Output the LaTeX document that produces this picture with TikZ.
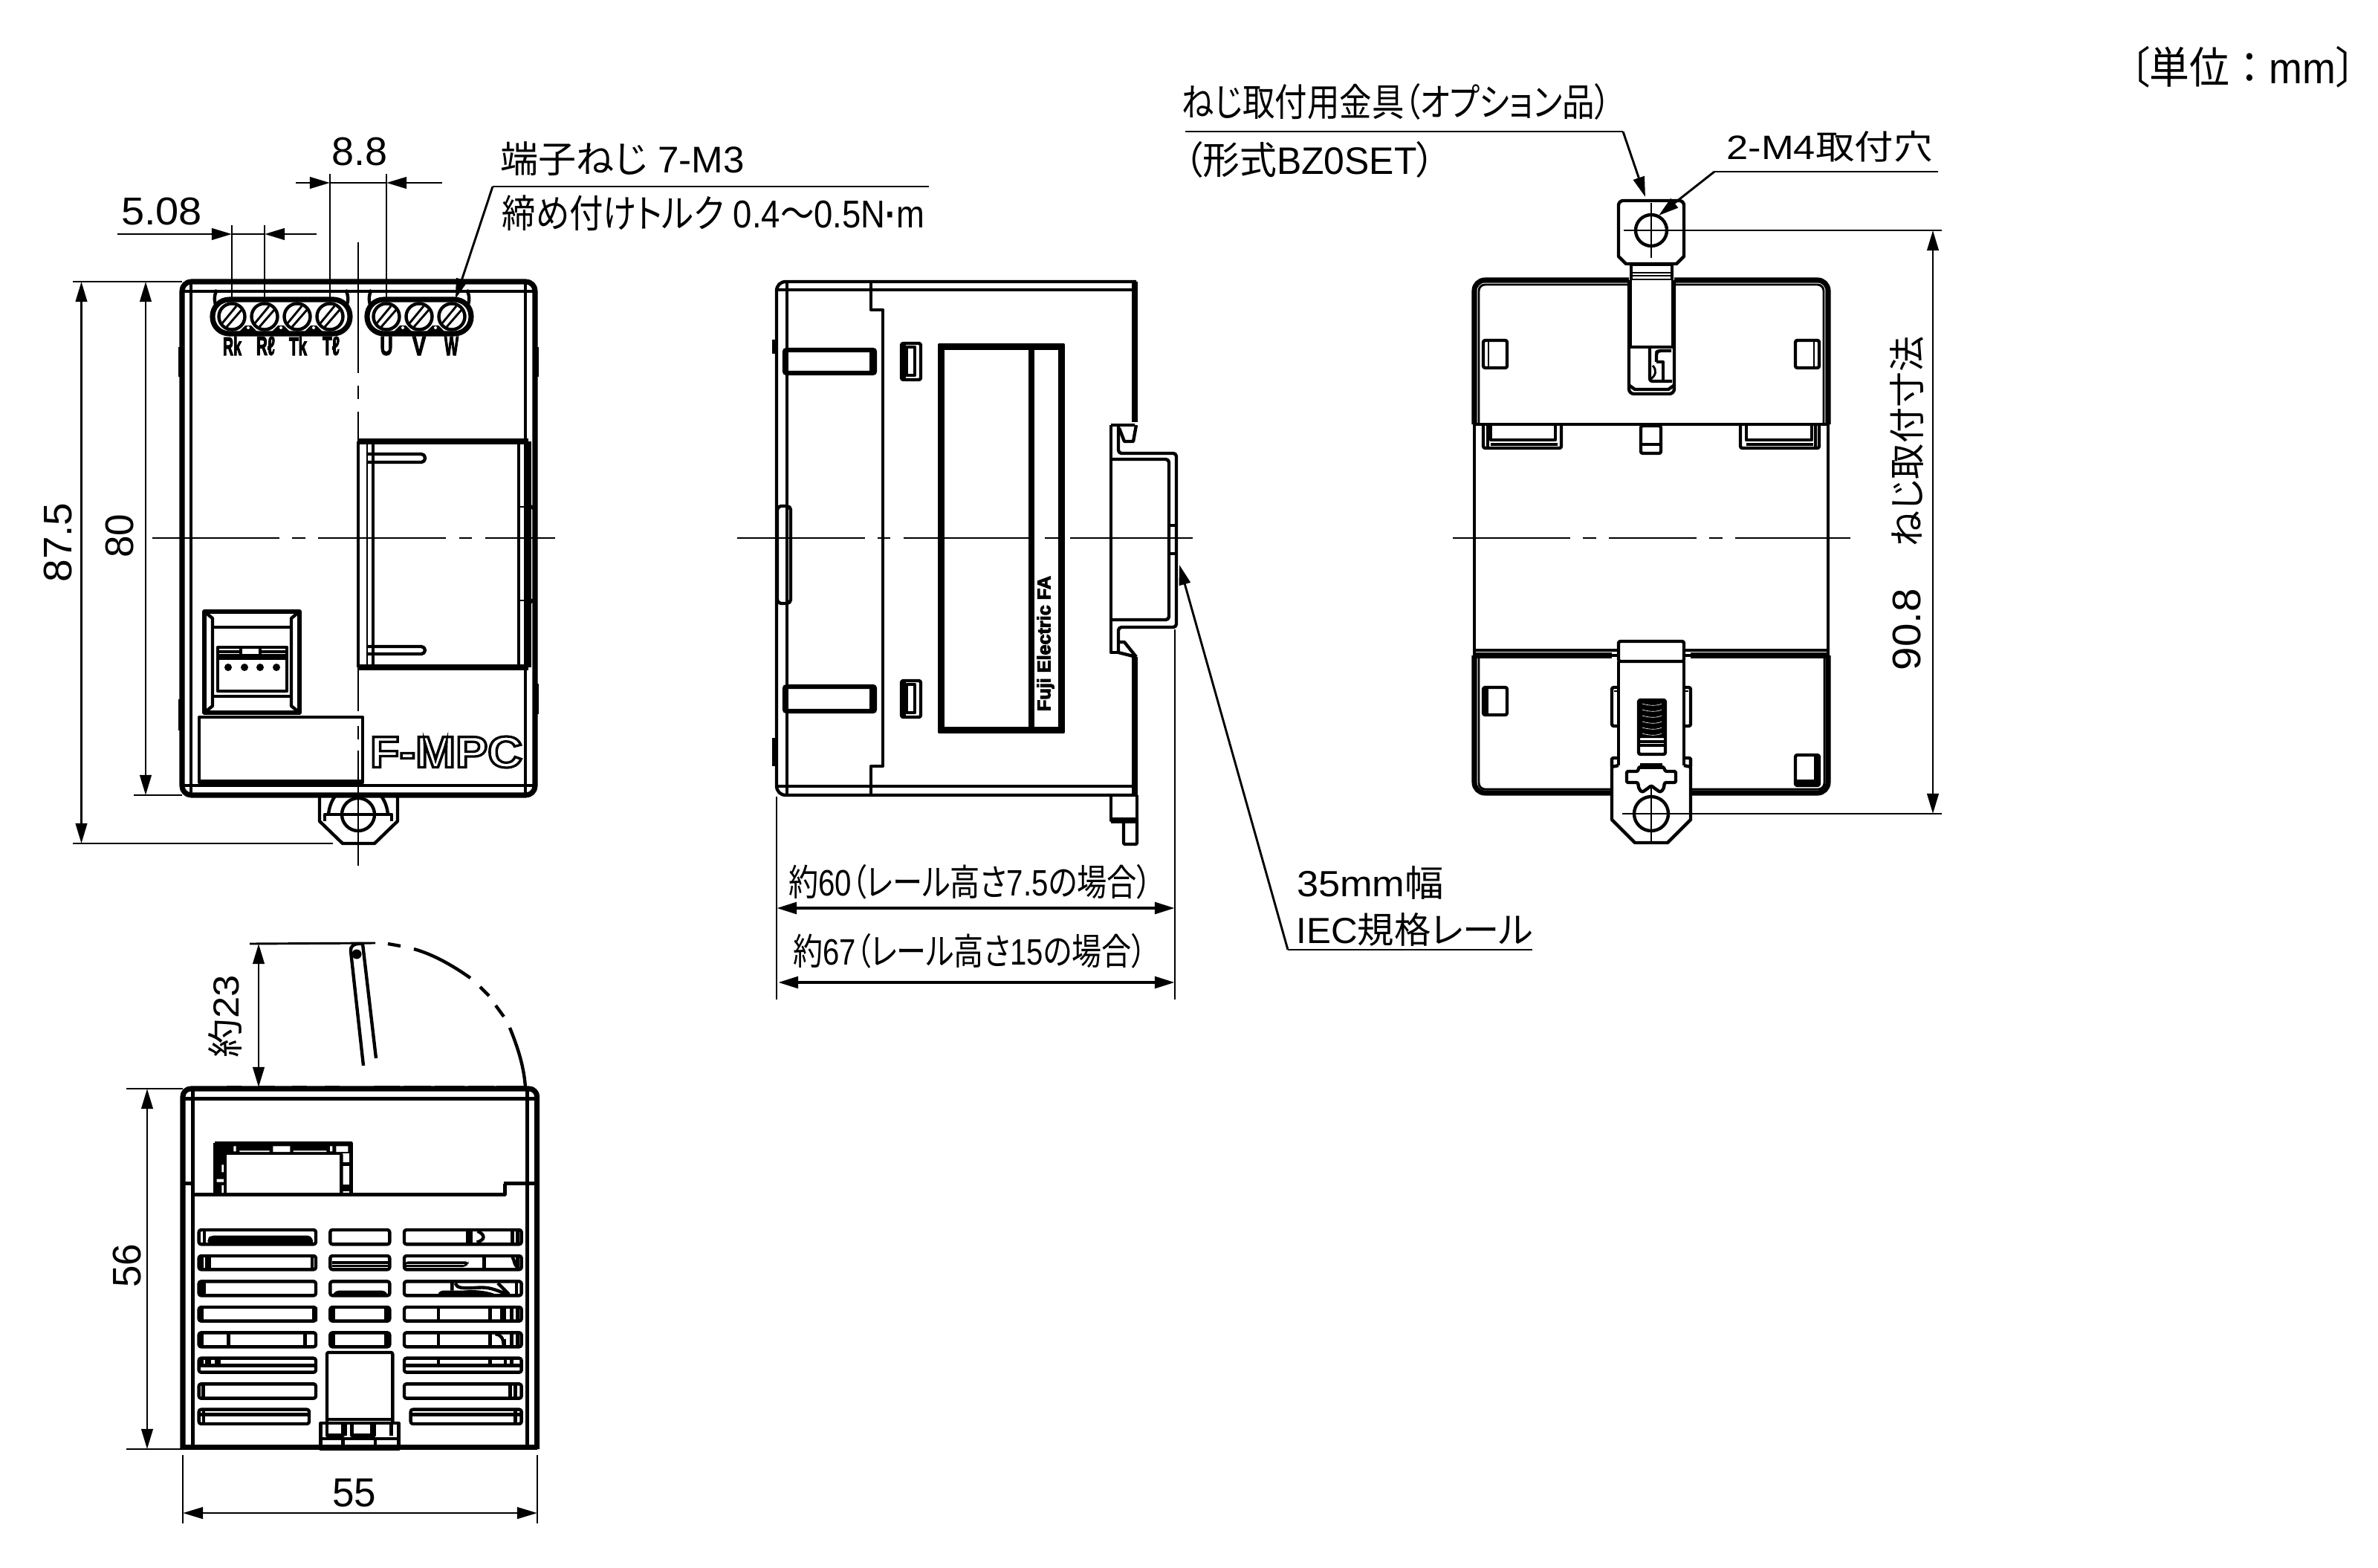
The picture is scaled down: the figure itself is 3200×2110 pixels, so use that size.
\documentclass[tikz,border=0pt]{standalone}
\usepackage{fontspec}
\usepackage{graphicx}
\usetikzlibrary{arrows.meta}
\setmainfont{Liberation Sans}
\newfontfamily\jpf[RawFeature=+palt]{Noto Sans CJK JP}
\newfontfamily\jpn{Noto Sans CJK JP}
\newfontfamily\hvf[UprightFont=* Bold,FakeBold=4]{Liberation Sans}
\newcommand\J[1]{{\jpf #1}}
\newcommand\HV[1]{{\hvf #1}}
\newcommand\FC{{\jpn ^^^^ff1a}}
\newcommand\LP{{\jpf ^^^^ff08}}
\newcommand\RP{{\jpf ^^^^ff09}}
\newlength\pxu \setlength\pxu{0.24pt}
\newcommand\lbx[6]{\node[inner sep=0pt] (#1) at (#2,#3) {\resizebox*{#4\pxu}{#5\pxu}{#6}};}
\newcommand\rlbx[6]{\node[inner sep=0pt,rotate=90] (#1) at (#2,#3) {\resizebox*{#4\pxu}{#5\pxu}{#6}};}
\tikzset{
  ol/.style={line width=1.05pt,line join=round},
  hv/.style={line width=1.7pt,line join=round},
  dl/.style={line width=0.7pt},
  ah/.style={-{Triangle[length=6.5pt,width=3.7pt]}},
  ahb/.style={{Triangle[length=6.5pt,width=3.7pt]}-{Triangle[length=6.5pt,width=3.7pt]}},
}
\begin{document}
\begin{tikzpicture}[x=0.24pt,y=-0.24pt]
\useasboundingbox (0,0) rectangle (3200,2110);
%% ---------- FRONT VIEW
\draw[hv,rounded corners=3pt] (245,379) rectangle (720,1070);
\draw[ol] (257,379)--(257,1070) (707,379)--(707,1070) (245,392)--(720,392) (245,1057)--(720,1057);
\draw[hv] (244,467)--(244,507) (721,467)--(721,507) (244,941)--(244,983) (721,920)--(721,961);
% terminal blocks
\draw[hv,rounded corners=5.4pt] (286,403) rectangle (471,449);
\draw[hv,rounded corners=5.4pt] (494,403) rectangle (634,449);
\foreach \xc in {312,356,400,444,520,564,608}{
  \draw[ol] (\xc,426) circle [radius=17.5];
  \draw[dl] (\xc-13,435)--(\xc+6,412) (\xc-7,440)--(\xc+13,417);
}
\foreach \xc in {334,378,422,542,586}{
  \fill (\xc-13,447)--(\xc-4,438)--(\xc+4,438)--(\xc+13,447)--cycle;
  \fill[white] (\xc,441) circle [radius=2];
}
\draw[ol] (292,414) arc (150:210:24) (465,414) arc (30:-30:24) (500,414) arc (150:210:24) (628,414) arc (30:-30:24);
\lbx{ta}{312.5}{465.5}{25}{25}{\HV{Rk}}
\lbx{tb}{357.5}{465.5}{25}{25}{\HV{Rℓ}}
\lbx{tc}{401}{465.5}{24}{25}{\HV{Tk}}
\lbx{td}{445.5}{465.5}{23}{25}{\HV{Tℓ}}
\lbx{te}{520}{465.5}{17}{25}{\HV{U}}
\lbx{tf}{564}{465.5}{18}{25}{\HV{V}}
\lbx{tg}{607.5}{465.5}{19}{25}{\HV{W}}
% window
\draw[hv] (482,594)--(711,594) (482,898)--(711,898) (711,594)--(711,898);
\draw[ol] (482,594)--(482,898) (502,594)--(502,898) (698,594)--(698,898);
\draw[dl] (494,594)--(494,898);
\draw[ol,rounded corners=1.2pt] (494,611)--(572,611)--(572,622)--(494,622);
\draw[ol,rounded corners=1.2pt] (494,870)--(572,870)--(572,880)--(494,880);
\draw[ol] (711,679)--(719,685)--(719,806)--(711,813);
\draw[dl] (698,682)--(711,682) (698,808)--(711,808);
% socket
\draw[ol,line width=1.3pt] (275,823) rectangle (403,959);
\draw[ol] (275,823)--(286,832)--(286,950)--(275,959) (403,823)--(392,832)--(392,950)--(403,959);
\draw[ol] (286,844)--(392,844) (286,937)--(392,937);
\draw[ol] (293,871) rectangle (386,930);
\draw[hv] (293,884)--(386,884);
\draw[ol] (293,877)--(324,877) (350,877)--(386,877) (324,871)--(324,884) (350,871)--(350,884);
\foreach \xc in {307,329,350,372}{\fill (\xc,898) circle [radius=5];}
% label plate
\draw[ol] (268,965) rectangle (488,1053);
\draw[hv] (268,1053)--(488,1053);
\lbx{fmpc}{600.5}{1012}{205}{42}{\special{pdf:code 1 Tr 0.55 w}\textbf{F-MPC}\special{pdf:code 0 Tr 1 w}}
% foot
\draw[ol] (430,1070)--(430,1105)--(461,1135)--(504,1135)--(535,1105)--(535,1070);
\draw[ol] (442,1096)..controls (443,1085) and (447,1076) .. (452,1070) (522,1096)..controls (521,1085) and (517,1076) .. (512,1070);
\draw[ol] (437,1105)--(437,1096)--(527,1096)--(527,1105);
\draw[ol] (482,1096) circle [radius=22];
% centre lines
\draw[dl] (205,724)--(376,724) (393,724)--(411,724) (428,724)--(600,724) (618,724)--(635,724) (653,724)--(747,724);
\draw[dl] (482,326)--(482,502) (482,519)--(482,537) (482,554)--(482,957) (482,977)--(482,995) (482,1010)--(482,1165);
% dimensions
\draw[dl,ah] (158,315)--(312,315);
\draw[dl,ah] (426,315)--(356,315);
\draw[dl] (312,315)--(356,315) (312,303)--(312,403) (356,303)--(356,403);
\draw[dl,ah] (398,246)--(444,246);
\draw[dl,ah] (595,246)--(520,246);
\draw[dl] (444,246)--(520,246) (444,234)--(444,403) (520,234)--(520,403);
\draw[dl] (98,379)--(245,379) (98,1135)--(448,1135) (180,1070)--(245,1070);
\draw[dl,ahb] (109.5,379)--(109.5,1135);
\draw[dl,ahb] (196,379)--(196,1070);
\coordinate (termA) at (663,251);
\draw[dl,ah] (termA)--(613,402);
\draw[dl] (termA)--(1250,251);
\lbx{d508}{217.5}{284.5}{109}{37}{5.08}
\lbx{d88}{484.5}{204}{75}{38}{8.8}
\lbx{term1}{837.5}{214}{329}{46}{\J{端子ねじ} 7-M3}
\lbx{term2}{960}{287}{569}{48}{\J{締め付けトルク} 0.4\J{〜}0.5N\textbf{·}m}
\rlbx{d875}{78}{730}{107}{38}{87.5}
\rlbx{d80}{161}{721}{59}{38}{80}
%% ---------- SIDE VIEW
\draw[ol] (1529,379)--(1058,379) ..controls (1050,379) and (1045,384) .. (1045,392)--(1045,1057)..controls (1045,1065) and (1050,1070) .. (1058,1070)--(1529,1070);
\draw[ol] (1059,379)--(1059,1070) (1045,390)--(1527,390) (1045,1058)--(1527,1058);
\draw[hv] (1527,379)--(1527,568) (1527,884)--(1527,1070);
\draw[ol] (1172,379)--(1172,417)--(1188,417)--(1188,1031)--(1172,1031)--(1172,1070);
\draw[hv] (1043,457)--(1043,476) (1043,993)--(1043,1031);
\draw[ol,rounded corners=1.2pt] (1046,681) rectangle (1064,812);
\draw[line width=1.5pt,rounded corners=.6pt] (1056,471) rectangle (1177,502);
\draw[line width=1.5pt,rounded corners=.6pt] (1056,924) rectangle (1177,957);
\draw[hv] (1174,471)--(1174,502) (1174,924)--(1174,957);
\foreach \yy in {462,916}{
  \draw[ol,rounded corners=.6pt] (1213,\yy) rectangle (1239,\yy+49);
  \draw[ol] (1220,\yy+5) rectangle (1231,\yy+43);
  \draw[hv] (1215,\yy+2)--(1215,\yy+47);
}
\draw[ol] (1264,464) rectangle (1431,985);
\draw[hv] (1267,464)--(1267,985) (1428,464)--(1428,985) (1264,467)--(1431,467) (1264,982)--(1431,982);
\draw[line width=1.8pt] (1388,464)--(1388,985);
\rlbx{fuji}{1407}{866}{182}{23}{\HV{Fuji Electric FA}}
% rail
\draw[ol] (1495,572)--(1527,572) (1495,572)--(1495,878)--(1505,878);
\draw[ol,rounded corners=1pt] (1505,572)--(1505,610)--(1583,610)--(1583,844)--(1505,844)--(1505,878);
\draw[ol,rounded corners=1pt] (1495,618)--(1573,618)--(1573,834)--(1495,834);
\draw[ol] (1573,707)--(1583,707) (1573,745)--(1583,745);
\draw[ol] (1506,576)--(1513,594)--(1525,594)--(1529,572);
\draw[ol] (1506,864)--(1513,864)--(1529,884) (1505,878)--(1529,884);
% side foot
\draw[ol] (1495,1070)--(1495,1104)--(1530,1104)--(1530,1070);
\draw[hv] (1495,1104)--(1530,1104);
\draw[ol,rounded corners=.5pt] (1512,1104)--(1512,1136)--(1530,1136)--(1530,1104);
% centre
\draw[dl] (992,724)--(1164,724) (1181,724)--(1198,724) (1216,724)--(1384,724) (1406,724)--(1424,724) (1440,724)--(1605,724);
% dims
\draw[dl] (1045,1072)--(1045,1345) (1581,847)--(1581,1345);
\draw[ol,ahb] (1045,1222)--(1581,1222);
\draw[ol,ahb] (1047,1322)--(1581,1322);
\coordinate (railA) at (1733,1278);
\draw[dl,ah] (railA)--(1587,760);
\draw[dl] (railA)--(2062,1278);
\lbx{r60}{1305.5}{1187}{489}{47}{\J{約}60\LP\J{レール高さ}7.5\J{の場合}\RP}
\lbx{r67}{1305}{1280}{476}{47}{\J{約}67\LP\J{レール高さ}15\J{の場合}\RP}
\lbx{r35}{1844}{1188}{198}{45}{35mm\J{幅}}
\lbx{riec}{1904}{1251}{319}{45}{IEC\J{規格レール}}
%% ---------- REAR VIEW
\draw[hv,rounded corners=3.4pt] (1984,571)--(1984,377)--(2192,377);
\draw[hv,rounded corners=3.4pt] (2253,377)--(2460,377)--(2460,571);
\draw[dl,rounded corners=2pt] (1990,571)--(1990,383)--(2192,383) (2253,383)--(2454,383)--(2454,571);
\draw[ol] (1984,571)--(2460,571) (1984,571)--(1984,875) (2460,571)--(2460,875);
\foreach \yy in {458}{
  \draw[ol,rounded corners=.6pt] (1996,\yy) rectangle (2028,\yy+37);
  \draw[ol,rounded corners=.6pt] (2416,\yy) rectangle (2448,\yy+37);
}
\draw[dl] (2003,458)--(2003,495) (2441,458)--(2441,495);
% strap + top bracket
\draw[ol,rounded corners=1.5pt] (2178,340)--(2178,270)--(2266,270)--(2266,340);
\draw[ol] (2178,340)--(2178,345)--(2188,355)--(2256,355)--(2266,345)--(2266,340);
\draw[ol] (2222,310) circle [radius=21];
\draw[dl] (2222,273)--(2222,347) (2185,310)--(2613,310);
\draw[ol] (2195,355)--(2195,377) (2250,355)--(2250,377);
\draw[dl] (2195,357)--(2250,357) (2197,367)--(2248,367) (2197,371)--(2248,371) (2195,376)--(2250,376);
\draw[ol,rounded corners=1.6pt] (2192,377)--(2192,530)--(2253,530)--(2253,377);
\draw[dl] (2195,377)--(2195,467) (2250,377)--(2250,467);
\draw[ol] (2192,467)--(2253,467) ;
\draw[ol] (2193,519)--(2200,524)--(2245,524)--(2252,519);
\draw[ol,rounded corners=.8pt] (2220,469)--(2220,513)--(2250,513);
\draw[ol,rounded corners=.8pt] (2229,487)--(2229,474)--(2232,472)--(2249,472);
\draw[ol] (2229,487)--(2238,487)--(2238,512);
\draw[dl] (2224,492)..controls (2230,498) and (2228,506) .. (2221,510);
% rear lower tabs
\draw[ol,rounded corners=.6pt] (2101,572)--(2101,603)--(1996,603)--(1996,572);
\draw[ol] (2006,572)--(2006,592)--(2093,592)--(2093,572);
\draw[ol] (2002,572)--(2002,603) (2006,598)--(2096,598);
\draw[ol,rounded corners=.6pt] (2342,572)--(2342,603)--(2448,603)--(2448,572);
\draw[ol] (2350,572)--(2350,592)--(2438,592)--(2438,572);
\draw[ol] (2443,572)--(2443,603) (2350,598)--(2440,598);
\draw[ol,rounded corners=.6pt] (2208,573) rectangle (2235,610);
\draw[ol] (2208,598)--(2235,598);
% lower part
\draw[ol] (1984,875)--(2169,875) (2275,875)--(2460,875);
\draw[hv] (1984,882)--(2169,882) (2275,882)--(2460,882);
\draw[ol] (1984,875)--(1984,882) (2460,875)--(2460,882);
\draw[hv,rounded corners=3.4pt] (1984,882)--(1984,1067)--(2169,1067);
\draw[hv,rounded corners=3.4pt] (2460,882)--(2460,1067)--(2275,1067);
\draw[dl,rounded corners=2pt] (1990,882)--(1990,1062)--(2169,1062) (2455,882)--(2455,1062)--(2275,1062);
\draw[ol,rounded corners=.6pt] (1996,925) rectangle (2028,962);
\draw[hv] (1999,925)--(1999,962);
\draw[ol,rounded corners=.6pt] (2416,1016) rectangle (2448,1057);
\draw[hv] (2445,1016)--(2445,1057) (2416,1053)--(2448,1053);
% clip
\draw[ol,rounded corners=.6pt] (2178,863) rectangle (2266,890);
\draw[ol] (2178,890)--(2178,1030) (2266,890)--(2266,1030);
\draw[ol] (2169,875)--(2178,875) (2169,882)--(2178,882) (2266,875)--(2275,875) (2266,882)--(2275,882);
\draw[ol,rounded corners=.6pt] (2178,925)--(2169,925)--(2169,977)--(2178,977);
\draw[ol,rounded corners=.6pt] (2266,925)--(2275,925)--(2275,977)--(2266,977);
\draw[dl] (2172,930)--(2178,930) (2272,930)--(2266,930);
\draw[ol,rounded corners=.5pt] (2178,1020)--(2169,1020)--(2169,1032)--(2178,1030) (2266,1020)--(2275,1020)--(2275,1032)--(2266,1030);
\draw[ol] (2169,1020)--(2169,1103)--(2200,1134)--(2244,1134)--(2275,1103)--(2275,1020);
\draw[ol] (2222,1095) circle [radius=23];
\draw[dl] (2183,1095)--(2613,1095) (2222,1057)--(2222,1134);
\draw[ol,rounded corners=.6pt] (2205,942) rectangle (2241,1015);
\fill[rounded corners=.6pt] (2205,942) rectangle (2241,993);
\draw[ol] (2205,998)--(2241,998) (2205,1003)--(2241,1003);
\foreach \yy in {947,955,963,971,979,987}{\draw[white,line width=.15pt] (2210,\yy)..controls (2220,\yy+3) and (2230,\yy+3) .. (2236,\yy);}
\draw[ol,rounded corners=.5pt] (2205.5,1032)--(2238.6,1032)--(2241,1038)--(2255,1038)--(2255,1053)--(2240,1053)--(2238.6,1062)--(2234,1066)--(2225.5,1060)--(2222,1057)--(2218.6,1060)--(2210,1066)--(2205.5,1062)--(2204,1053)--(2189,1053)--(2189,1038)--(2204,1038)--cycle;
\draw[hv] (2207,1031)--(2237,1031);
% rear centre & dims
\draw[dl] (1955,724)--(2113,724) (2130,724)--(2148,724) (2165,724)--(2283,724) (2300,724)--(2318,724) (2335,724)--(2490,724);
\draw[dl,ahb] (2601,310)--(2601,1095);
\coordinate (brkA) at (2184,177);
\coordinate (holeA) at (2307,231);
\draw[dl,ah] (brkA)--(2214,265);
\draw[dl] (brkA)--(1595,177);
\draw[dl,ah] (holeA)--(2232,290);
\draw[dl] (holeA)--(2608,231);
\lbx{brk1}{1879}{137}{577}{49}{\J{ねじ取付用金具}\LP\J{オプション品}\RP}
\lbx{brk2}{1762.5}{214.5}{338}{49}{\LP\J{形式}BZ0SET\RP}
\lbx{hole}{2462}{197}{277}{42}{2-M4\J{取付穴}}
\lbx{unit}{3018}{90}{305}{56}{\J{〔単位}\FC mm\J{〕}}
\rlbx{mnt}{2566}{594}{283}{45}{\J{ねじ取付寸法}}
\rlbx{d908}{2566}{847}{110}{38}{90.8}
%% ---------- TOP VIEW (bottom left)
\begin{scope}[shift={(220,1460)},x=0.08pt,y=-0.08pt]
\draw[hv,rounded corners=2.6pt] (78,1470)--(78,15)--(1508,15)--(1508,1470);
\draw[hv] (78,1462)--(1508,1462);
\draw[ol] (118,15)--(118,1462) (1468,15)--(1468,1462) (78,55)--(1508,55);
\draw[ol] (78,398)--(118,398) (1375,398)--(1508,398);
\draw[ol] (118,442)--(1378,442)--(1378,398);
% connector
\draw[ol,line width=1.3pt] (208,235)--(757,235)--(757,442);
\draw[ol] (208,235)--(208,442);
\draw[ol,rounded corners=.5pt] (248,442)--(248,275)--(718,275)--(718,442);
\fill (208,235) rectangle (248,442);
\fill (208,235) rectangle (757,275);
\fill (718,235) rectangle (757,275);
\fill[white] (283,247) rectangle (293,268) (307,265) rectangle (428,270) (442,247) rectangle (511,270) (524,265) rectangle (658,270) (672,247) rectangle (682,268) (697,247) rectangle (745,270);
\fill[white] (235,322) rectangle (243,352) (215,380) rectangle (243,392) (235,405) rectangle (243,435);
\draw[ol] (718,320)--(757,320) (718,410)--(757,410) (722,423)--(750,423);
% slots
\foreach \ya/\yb in {585/643,690/745,793/850,897/953,1000/1057,1103/1160,1207/1265}{
  \draw[ol,rounded corners=.7pt] (143,\ya) rectangle (615,\yb);
  \draw[ol,rounded corners=.7pt] (972,\ya) rectangle (1445,\yb);
}
\draw[ol,rounded corners=.7pt] (143,1310) rectangle (588,1368);
\draw[ol,rounded corners=.7pt] (998,1310) rectangle (1445,1368);
\foreach \ya/\yb in {585/643,690/745,793/850,897/953,1000/1057}{
  \draw[ol,rounded corners=.7pt] (673,\ya) rectangle (913,\yb);
}
% slot details
\draw[ol] (165,585)--(165,643) (1228,585)--(1228,643) (1240,585)--(1240,643) (1408,585)--(1408,643) (1430,585)--(1430,643);
\draw[ol] (1268,590)..controls (1300,605) and (1300,625) .. (1265,635);
\fill[rounded corners=1pt] (178,640)--(178,620)--(190,608)--(595,608)--(608,640)--cycle;
\draw[ol] (155,690)--(155,745) (175,690)--(175,745) (185,690)--(185,745) (600,690)--(600,745);
\fill (680,712) rectangle (905,745);
\draw[white,line width=.2pt] (680,725)--(905,725) (680,735)--(905,735);
\fill[rounded corners=1pt] (975,712)--(1232,712)--(1232,722)--(1218,735)--(975,745)--cycle;
\draw[white,line width=.2pt] (980,725)--(1215,725) (980,735)--(1200,735);
\draw[ol] (1295,690)--(1295,745) (1430,690)--(1430,745);
\draw[ol] (1408,695)..controls (1418,705) and (1412,720) .. (1428,735);
\draw[ol] (155,793)--(155,850) (163,793)--(163,850);
\fill[rounded corners=1pt] (680,850)--(695,830)--(895,830)--(908,850)--cycle;
\draw[ol] (1425,793)--(1425,850);
\fill[rounded corners=1pt] (1105,850)--(1115,830)--(1210,830)..controls (1270,825) and (1320,835) .. (1350,850)--cycle;
\draw[ol] (1165,793)--(1165,830) (1178,800)..controls (1185,820) and (1200,822) .. (1270,818)..controls (1310,815) and (1340,825) .. (1385,845) (1350,800)--(1395,845);
\draw[hv] (152,897)--(152,953) (610,897)--(610,953) (682,897)--(682,953) (903,897)--(903,953);
\draw[hv] (682,1000)--(682,1057) (903,1000)--(903,1057);
\draw[ol] (1110,897)--(1110,953) (1318,897)--(1318,953) (1365,897)--(1365,953) (1375,897)--(1375,953) (1405,897)--(1405,953) (1430,897)--(1430,953);
\draw[ol] (155,1000)--(155,1057) (262,1000)--(262,1057) (572,1000)--(572,1057) (1110,1000)--(1110,1057) (1318,1000)--(1318,1057) (1375,1025)--(1375,1057) (1405,1000)--(1405,1057) (1430,1000)--(1430,1057);
\draw[ol] (1340,1005)..controls (1360,1008) and (1372,1020) .. (1373,1050);
\draw[ol] (143,1133)--(615,1133) (972,1133)--(1445,1133);
\draw[ol] (155,1103)--(155,1133) (175,1103)--(175,1133) (185,1103)--(185,1133) (215,1103)--(215,1133) (225,1103)--(225,1133) (1110,1103)--(1110,1133) (1318,1103)--(1318,1133) (1380,1103)--(1380,1133) (1405,1103)--(1405,1133);
\draw[ol] (160,1207)--(160,1265) (1400,1207)--(1400,1265) (1420,1207)--(1420,1265);
\draw[ol] (162,1310)--(162,1368) (143,1330)--(588,1330) (998,1330)--(1445,1330) (1420,1310)--(1420,1368);
% centre block and bottom clip
\draw[ol,rounded corners=.5pt] (660,1365)--(660,1080)--(925,1080)--(925,1365);
\draw[ol] (635,1365) rectangle (950,1470);
\draw[ol] (660,1350)--(925,1350);
\draw[ol] (635,1428)--(950,1428) (660,1365)--(660,1415)--(725,1415)--(725,1365) (760,1365)--(760,1415)--(850,1415)--(850,1365) (920,1365)--(920,1415);
\draw[ol] (735,1365)--(735,1415) (840,1365)--(840,1415) (725,1428)--(725,1470) (855,1428)--(855,1470);
\end{scope}
% lever view
\draw[ol] (305,1463)--(325,1463) (348,1463)--(370,1463) (393,1463)--(413,1463) (437,1463)--(457,1463) (503,1463)--(538,1463) (543,1463)--(580,1463) (585,1463)--(625,1463) (630,1463)--(665,1463) (668,1463)--(707,1463);
\draw[ol,line join=round] (489,1434)--(472,1280)..controls (471,1274) and (476,1270) .. (482,1270)--(488,1270)--(506,1424);
\fill (480,1284) circle [radius=6.5];
\draw[dl] (336,1270)--(505,1269);
\draw[dl,ahb] (348,1270)--(348,1463);
\draw[ol] (522,1270)--(539,1273) (557,1277)..controls (585,1285) and (610,1300) .. (633,1316) (646,1328)--(658,1340) (667,1353)--(678,1368) (686,1383)..controls (697,1410) and (705,1435) .. (707,1463);
\rlbx{d23}{302.5}{1367.5}{111}{45}{\J{約}23}
% top view dims
\draw[dl] (170,1465)--(246,1465) (170,1950)--(246,1950) (246,1958)--(246,2050) (723,1958)--(723,2050);
\draw[dl,ahb] (198,1465)--(198,1950);
\draw[dl,ahb] (246,2036)--(723,2036);
\rlbx{d56}{171}{1703}{59}{38}{56}
\lbx{d55}{477}{2009}{59}{38}{55}
\end{tikzpicture}
\end{document}
